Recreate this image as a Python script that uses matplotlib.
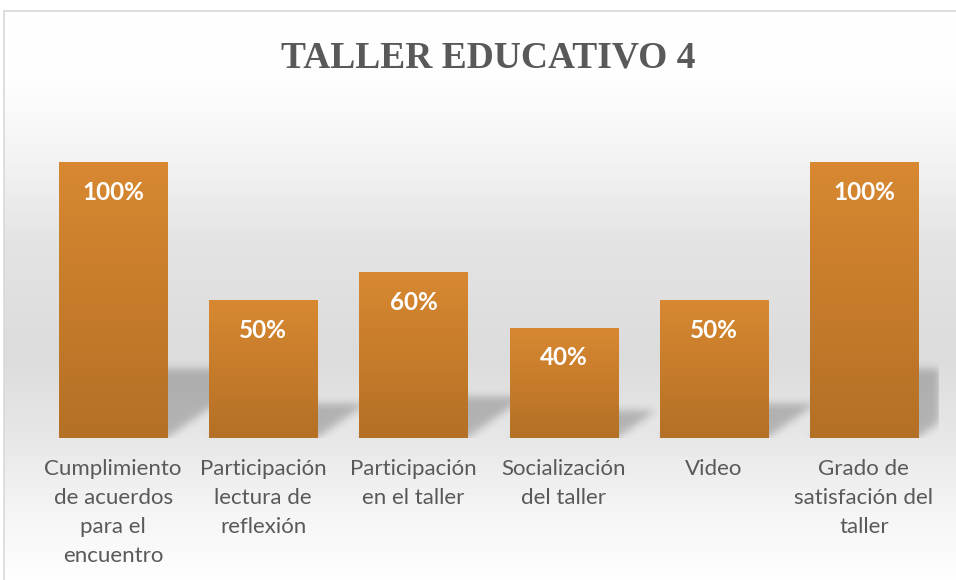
import numpy as np
import matplotlib.pyplot as plt
from matplotlib.colors import LinearSegmentedColormap, to_rgb
from matplotlib.patches import Rectangle

# data
categorias = ["Cumplimiento\nde acuerdos\npara el\nencuentro",
              "Participación\nlectura de\nreflexión",
              "Participación\nen el taller",
              "Socialización\ndel taller",
              "Video",
              "Grado de\nsatisfación del\ntaller"]
valores = [100, 50, 60, 40, 50, 100]
titulo = "TALLER EDUCATIVO 4"

W, H = 956, 580
fig = plt.figure(figsize=(W / 100, H / 100), dpi=100)

# background gradient + frame
bg = fig.add_axes([0, 0, 1, 1], zorder=-10)
bg.set_xlim(0, 1)
bg.set_ylim(0, 1)
bg.axis('off')
stops = [(0.0, '#ffffff'), (0.12, '#fefefe'), (0.25, '#f4f4f4'), (0.40, '#e4e4e4'),
         (0.60, '#dcdcdc'), (0.75, '#e8e8e8'), (0.88, '#f6f6f6'), (1.0, '#ffffff')]
bg_cmap = LinearSegmentedColormap.from_list('bg', stops)
grad = np.linspace(0, 1, 256).reshape(-1, 1)
x0f = 4 / W
y1f = 1 - 11 / H
bg.imshow(grad, cmap=bg_cmap, aspect='auto', extent=(x0f, 1.01, -0.01, y1f),
          origin='upper', interpolation='bilinear')
bg.add_patch(Rectangle((x0f, -0.05), 1.1, y1f + 0.05, fill=False,
                       edgecolor='#d9d9d9', lw=1.2))

# title
fig.text(488 / W, 1 - 67 / H, titulo, ha='center', va='baseline',
         family='Liberation Serif', fontweight='bold', fontsize=27, color='#595959')

# main axes
ax = fig.add_axes([38 / W, 142 / H, 901 / W, 276 / H])
ax.patch.set_visible(False)
x = np.arange(len(valores))
ancho = 0.72
ax.set_xlim(-0.5, len(valores) - 0.5)
ax.set_ylim(0, 100)
for s in ax.spines.values():
    s.set_visible(False)
ax.set_yticks([])

# perspective shadows (blurred)
k = 0.25        # shadow height factor
sk = 0.0065     # horizontal skew (categories per value unit)
nx, ny = 901, 90
gx = np.linspace(-0.5, len(valores) - 0.5, nx)
gy = np.linspace(0, 32, ny)
GX, GY = np.meshgrid(gx, gy)
mask = np.zeros_like(GX)
for xi, v in zip(x, valores):
    shift = sk * GY / k
    inside = (GY <= v * k) & (GX >= xi - ancho / 2 + shift) & (GX <= xi + ancho / 2 + shift)
    mask[inside] = 1.0
sig = 4.0
kx = np.arange(-12, 13)
kern = np.exp(-kx ** 2 / (2 * sig ** 2))
kern /= kern.sum()
blur = np.apply_along_axis(lambda r: np.convolve(r, kern, mode='same'), 1, mask)
blur = np.apply_along_axis(lambda c: np.convolve(c, kern, mode='same'), 0, blur)
rgba = np.zeros((ny, nx, 4))
rgba[..., 3] = blur * 0.22
ax.imshow(rgba, extent=(gx[0], gx[-1], 0, 32), origin='lower', aspect='auto',
          zorder=1, interpolation='bilinear')

# bars with vertical gradient
top_c = np.array(to_rgb('#d88831'))
bot_c = np.array(to_rgb('#b47025'))
bars = ax.bar(x, valores, width=ancho, color='#c57b2b', edgecolor='none', zorder=2)
g = np.linspace(0, 1, 128).reshape(-1, 1, 1)
grad_img = top_c * (1 - g) + bot_c * g
for b in bars:
    im = ax.imshow(grad_img, extent=(b.get_x(), b.get_x() + b.get_width(), 0, b.get_height()),
                   origin='upper', aspect='auto', zorder=3, interpolation='bilinear')
    im.set_clip_path(b)

for xi, v in zip(x, valores):
    ax.annotate(f"{v}%", (xi, v), xytext=(0, -30), textcoords='offset pixels',
                ha='center', va='center', color='white', fontweight='bold',
                fontsize=17.5, family='Lato', zorder=5)

ax.set_xticks(x)
ax.set_xticklabels(categorias, family='Lato', fontsize=16, color='#595959',
                   linespacing=1.57)
ax.tick_params(axis='x', length=0, pad=15)
ax.set_xlim(-0.5, len(valores) - 0.5)
ax.set_ylim(0, 100)

fig.savefig('out.png', dpi=100)
